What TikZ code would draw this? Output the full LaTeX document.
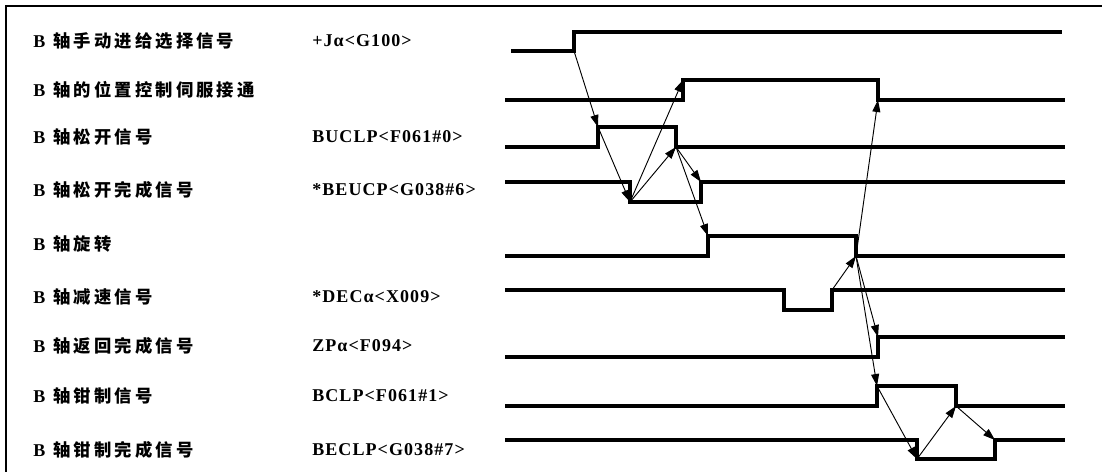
\documentclass[tikz,border=0pt]{standalone}
\usepackage{fontspec}
\setmainfont{Liberation Serif}[LetterSpace=6]
\newfontfamily\zhfont{Noto Sans CJK SC}[LetterSpace=18]
\newcommand\zh[1]{{\zhfont\bfseries\fontsize{13pt}{15pt}\selectfont #1}}
\usetikzlibrary{arrows.meta}

\begin{document}
\begin{tikzpicture}[
    x=0.75pt, y=-0.75pt,
    >={Triangle[length=9pt, width=6pt]},
    wave/.style={line width=2.8pt, line join=miter},
    cause/.style={->, line width=0.7pt},
    signame/.style={anchor=west, inner sep=0pt,
      font=\fontsize{13.5pt}{15pt}\selectfont\bfseries},
    sigaddr/.style={anchor=west, inner sep=0pt,
      font=\fontsize{13.5pt}{15pt}\selectfont\bfseries},
]
\useasboundingbox (0,0) rectangle (1102,472);
\draw[line width=1.5pt] (1102,6) -- (6,6) -- (6,472);

% ---- signal names ----
\node[signame] (n1) at (33,41)  {B\hspace{0.45em}\zh{轴手动进给选择信号}};
\node[signame] (n2) at (33,90)  {B\hspace{0.45em}\zh{轴的位置控制伺服接通}};
\node[signame] (n3) at (33,137) {B\hspace{0.45em}\zh{轴松开信号}};
\node[signame] (n4) at (33,190) {B\hspace{0.45em}\zh{轴松开完成信号}};
\node[signame] (n5) at (33,244) {B\hspace{0.45em}\zh{轴旋转}};
\node[signame] (n6) at (33,297) {B\hspace{0.45em}\zh{轴减速信号}};
\node[signame] (n7) at (33,346) {B\hspace{0.45em}\zh{轴返回完成信号}};
\node[signame] (n8) at (33,396) {B\hspace{0.45em}\zh{轴钳制信号}};
\node[signame] (n9) at (33,450) {B\hspace{0.45em}\zh{轴钳制完成信号}};

\node[sigaddr] (s1) at (312,41)  {+Jα<G100>};
\node[sigaddr] (s3) at (312,137) {BUCLP<F061\#0>};
\node[sigaddr] (s4) at (312,190) {*BEUCP<G038\#6>};
\node[sigaddr] (s6) at (312,297) {*DECα<X009>};
\node[sigaddr] (s7) at (312,346) {ZPα<F094>};
\node[sigaddr] (s8) at (312,396) {BCLP<F061\#1>};
\node[sigaddr] (s9) at (312,450) {BECLP<G038\#7>};

% ---- edges ----
\coordinate (jon)   at (574,51);
\coordinate (svon)  at (683,80);
\coordinate (svoff) at (878,100);
\coordinate (ucon)  at (598,127);
\coordinate (ucoff) at (676,147);
\coordinate (euon)  at (630,202);
\coordinate (euoff) at (701,182);
\coordinate (rton)  at (708,236);
\coordinate (rtoff) at (856,256);
\coordinate (dcoff) at (832,290);
\coordinate (zpon)  at (878,337);
\coordinate (clon)  at (877,386);
\coordinate (cloff) at (956,406);
\coordinate (econ)  at (917,459);
\coordinate (ecoff) at (995,440);

% ---- waveforms ----
\draw[wave] (511,51) -- (jon) -- (574,32) -- (1062,32);
\draw[wave] (505,100) -- (683,100) -- (svon) -- (878,80) -- (svoff) -- (1065,100);
\draw[wave] (505,147) -- (598,147) -- (ucon) -- (676,127) -- (ucoff) -- (1065,147);
\draw[wave] (505,182) -- (630,182) -- (euon) -- (701,202) -- (euoff) -- (1065,182);
\draw[wave] (505,256) -- (708,256) -- (rton) -- (856,236) -- (rtoff) -- (1065,256);
\draw[wave] (505,290) -- (784,290) -- (784,310) -- (832,310) -- (dcoff) -- (1065,290);
\draw[wave] (505,357) -- (878,357) -- (zpon) -- (1065,337);
\draw[wave] (505,406) -- (877,406) -- (clon) -- (956,386) -- (cloff) -- (1065,406);
\draw[wave] (505,440) -- (917,440) -- (econ) -- (995,459) -- (ecoff) -- (1065,440);

% ---- unclamp sequence ----
\draw[cause] (jon) -- (ucon);
\draw[cause] (ucon) -- (euon);
\draw[cause] (euon) -- (svon);
\draw[cause] (euon) -- (ucoff);
\draw[cause] (ucoff) -- (euoff);
\draw[cause] (ucoff) -- (rton);

% ---- stop and clamp sequence ----
\draw[cause] (dcoff) -- (rtoff);
\draw[cause] (rtoff) -- (svoff);
\draw[cause] (rtoff) -- (zpon);
\draw[cause] (rtoff) -- (clon);
\draw[cause] (clon) -- (econ);
\draw[cause] (econ) -- (cloff);
\draw[cause] (cloff) -- (ecoff);

\end{tikzpicture}
\end{document}
